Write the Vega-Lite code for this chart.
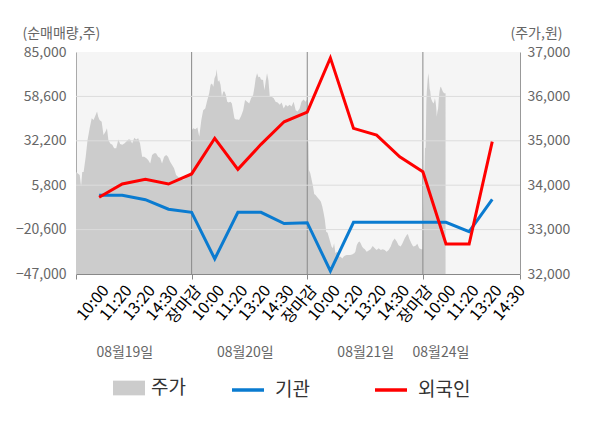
{
  "$schema": "https://vega.github.io/schema/vega-lite/v6.json",
  "width": 444,
  "height": 222,
  "autosize": "none",
  "padding": {"left": 76, "top": 52, "right": 80, "bottom": 154},
  "background": "white",
  "config": {
    "font": "Noto Sans CJK KR",
    "view": {"fill": "#f5f5f5", "stroke": null}
  },
  "datasets": {
    "price": [
      {"u":0.0,"p":34300},{"u":0.16,"p":34230},{"u":0.22,"p":33970},{"u":0.27,"p":34300},{"u":0.33,"p":34300},{"u":0.42,"p":34640},{"u":0.5,"p":35020},{"u":0.59,"p":35280},{"u":0.68,"p":35510},{"u":0.76,"p":35470},{"u":0.85,"p":35580},{"u":0.91,"p":35660},{"u":0.96,"p":35540},{"u":1.02,"p":35470},{"u":1.11,"p":35430},{"u":1.19,"p":35130},{"u":1.28,"p":35210},{"u":1.34,"p":35280},{"u":1.4,"p":35020},{"u":1.48,"p":34940},{"u":1.57,"p":34910},{"u":1.65,"p":34830},{"u":1.74,"p":34830},{"u":1.83,"p":35030},{"u":1.91,"p":34930},{"u":2.0,"p":34910},{"u":2.09,"p":34940},{"u":2.17,"p":34980},{"u":2.26,"p":35030},{"u":2.34,"p":35030},{"u":2.43,"p":34940},{"u":2.52,"p":35070},{"u":2.6,"p":35030},{"u":2.69,"p":35060},{"u":2.77,"p":34940},{"u":2.86,"p":34640},{"u":2.95,"p":34640},{"u":3.03,"p":34610},{"u":3.12,"p":34570},{"u":3.21,"p":34490},{"u":3.29,"p":34680},{"u":3.38,"p":34720},{"u":3.46,"p":34720},{"u":3.55,"p":34640},{"u":3.64,"p":34610},{"u":3.72,"p":34490},{"u":3.81,"p":34640},{"u":3.9,"p":34680},{"u":3.98,"p":34640},{"u":4.07,"p":34530},{"u":4.15,"p":34460},{"u":4.24,"p":34380},{"u":4.33,"p":34230},{"u":4.41,"p":34190},{"u":4.5,"p":34160},{"u":4.59,"p":34120},{"u":4.67,"p":34120},{"u":4.76,"p":34160},{"u":4.84,"p":34230},{"u":4.93,"p":34270},{"u":4.99,"p":34300},
      {"u":5.0,"p":35240},{"u":5.07,"p":35280},{"u":5.16,"p":35260},{"u":5.25,"p":35300},{"u":5.33,"p":35090},{"u":5.42,"p":35470},{"u":5.5,"p":35690},{"u":5.59,"p":35730},{"u":5.68,"p":35920},{"u":5.76,"p":36070},{"u":5.82,"p":36260},{"u":5.88,"p":36290},{"u":5.94,"p":36220},{"u":5.99,"p":36410},{"u":6.05,"p":36480},{"u":6.08,"p":36610},{"u":6.14,"p":36330},{"u":6.19,"p":36370},{"u":6.25,"p":36260},{"u":6.31,"p":35990},{"u":6.37,"p":36110},{"u":6.42,"p":36110},{"u":6.48,"p":36030},{"u":6.54,"p":35880},{"u":6.6,"p":35860},{"u":6.68,"p":35880},{"u":6.74,"p":35840},{"u":6.8,"p":35660},{"u":6.85,"p":35510},{"u":6.91,"p":35480},{"u":7.0,"p":35480},{"u":7.05,"p":35470},{"u":7.14,"p":35560},{"u":7.23,"p":35690},{"u":7.31,"p":35920},{"u":7.4,"p":35880},{"u":7.49,"p":35840},{"u":7.57,"p":35960},{"u":7.66,"p":36030},{"u":7.72,"p":36220},{"u":7.77,"p":36410},{"u":7.83,"p":36520},{"u":7.89,"p":36430},{"u":7.95,"p":36440},{"u":8.0,"p":36380},{"u":8.09,"p":36370},{"u":8.15,"p":36140},{"u":8.2,"p":36330},{"u":8.26,"p":36520},{"u":8.32,"p":36370},{"u":8.38,"p":35990},{"u":8.46,"p":35990},{"u":8.55,"p":35960},{"u":8.63,"p":35880},{"u":8.72,"p":35860},{"u":8.81,"p":35810},{"u":8.89,"p":35860},{"u":8.98,"p":35730},{"u":9.07,"p":35810},{"u":9.15,"p":35770},{"u":9.24,"p":35810},{"u":9.32,"p":35770},{"u":9.41,"p":35880},{"u":9.5,"p":35690},{"u":9.58,"p":35660},{"u":9.67,"p":35730},{"u":9.75,"p":35880},{"u":9.84,"p":35930},{"u":9.93,"p":35880},{"u":9.99,"p":35930},
      {"u":10.0,"p":35090},{"u":10.05,"p":34940},{"u":10.07,"p":34340},{"u":10.13,"p":34270},{"u":10.19,"p":34120},{"u":10.25,"p":33970},{"u":10.3,"p":33800},{"u":10.36,"p":33780},{"u":10.42,"p":33740},{"u":10.48,"p":33700},{"u":10.53,"p":33670},{"u":10.59,"p":33630},{"u":10.65,"p":33520},{"u":10.71,"p":33370},{"u":10.76,"p":33220},{"u":10.82,"p":32950},{"u":10.88,"p":32930},{"u":10.93,"p":32840},{"u":10.99,"p":32730},{"u":11.05,"p":32620},{"u":11.11,"p":32580},{"u":11.16,"p":32690},{"u":11.22,"p":32470},{"u":11.28,"p":32500},{"u":11.34,"p":32470},{"u":11.39,"p":32390},{"u":11.45,"p":32390},{"u":11.51,"p":32350},{"u":11.57,"p":32390},{"u":11.62,"p":32410},{"u":11.71,"p":32430},{"u":11.77,"p":32430},{"u":11.85,"p":32430},{"u":11.94,"p":32440},{"u":12.03,"p":32470},{"u":12.08,"p":32500},{"u":12.14,"p":32650},{"u":12.2,"p":32710},{"u":12.26,"p":32730},{"u":12.31,"p":32690},{"u":12.37,"p":32620},{"u":12.43,"p":32580},{"u":12.49,"p":32560},{"u":12.57,"p":32500},{"u":12.66,"p":32530},{"u":12.74,"p":32560},{"u":12.83,"p":32630},{"u":12.92,"p":32580},{"u":13.0,"p":32540},{"u":13.09,"p":32580},{"u":13.18,"p":32540},{"u":13.26,"p":32560},{"u":13.35,"p":32540},{"u":13.43,"p":32500},{"u":13.52,"p":32540},{"u":13.61,"p":32620},{"u":13.69,"p":32730},{"u":13.78,"p":32800},{"u":13.87,"p":32730},{"u":13.95,"p":32650},{"u":14.04,"p":32620},{"u":14.12,"p":32690},{"u":14.21,"p":32800},{"u":14.3,"p":32880},{"u":14.35,"p":32900},{"u":14.41,"p":32800},{"u":14.5,"p":32690},{"u":14.58,"p":32620},{"u":14.67,"p":32630},{"u":14.76,"p":32680},{"u":14.84,"p":32580},{"u":14.93,"p":32560},{"u":14.99,"p":32560},
      {"u":15.09,"p":34830},{"u":15.12,"p":34850},{"u":15.15,"p":35880},{"u":15.17,"p":36110},{"u":15.2,"p":36330},{"u":15.23,"p":36520},{"u":15.26,"p":36410},{"u":15.29,"p":36180},{"u":15.32,"p":36110},{"u":15.35,"p":35960},{"u":15.41,"p":35880},{"u":15.46,"p":35840},{"u":15.49,"p":35880},{"u":15.52,"p":35960},{"u":15.55,"p":35880},{"u":15.58,"p":35730},{"u":15.6,"p":35540},{"u":15.63,"p":35660},{"u":15.66,"p":35730},{"u":15.69,"p":35960},{"u":15.72,"p":36110},{"u":15.75,"p":36200},{"u":15.78,"p":36220},{"u":15.81,"p":36180},{"u":15.86,"p":36110},{"u":15.92,"p":36070},{"u":15.98,"p":36070}
    ],
    "flow": [
      {"u":1,"s":"기관","v":-200},{"u":2,"s":"기관","v":-200},{"u":3,"s":"기관","v":-2800},{"u":4,"s":"기관","v":-8500},{"u":5,"s":"기관","v":-10300},{"u":6,"s":"기관","v":-38000},{"u":7,"s":"기관","v":-10300},{"u":8,"s":"기관","v":-10300},{"u":9,"s":"기관","v":-17000},{"u":10,"s":"기관","v":-16500},{"u":11,"s":"기관","v":-45200},{"u":12,"s":"기관","v":-16300},{"u":13,"s":"기관","v":-16300},{"u":14,"s":"기관","v":-16300},{"u":15,"s":"기관","v":-16300},{"u":16,"s":"기관","v":-16300},{"u":17,"s":"기관","v":-21800},{"u":18,"s":"기관","v":-2600},
      {"u":1,"s":"외국인","v":-1400},{"u":2,"s":"외국인","v":6500},{"u":3,"s":"외국인","v":9300},{"u":4,"s":"외국인","v":6500},{"u":5,"s":"외국인","v":12500},{"u":6,"s":"외국인","v":33700},{"u":7,"s":"외국인","v":15200},{"u":8,"s":"외국인","v":30100},{"u":9,"s":"외국인","v":43500},{"u":10,"s":"외국인","v":49300},{"u":11,"s":"외국인","v":81500},{"u":12,"s":"외국인","v":39600},{"u":13,"s":"외국인","v":35600},{"u":14,"s":"외국인","v":22700},{"u":15,"s":"외국인","v":13800},{"u":16,"s":"외국인","v":-29200},{"u":17,"s":"외국인","v":-29200},{"u":18,"s":"외국인","v":31700}
    ],
    "bounds": [{"b":5},{"b":10},{"b":15}],
    "grid": [{"g":58600},{"g":32200},{"g":5800},{"g":-20600}]
  },
  "layer": [
    {
      "data": {"name": "price"},
      "mark": {"type": "area", "clip": true},
      "encoding": {
        "x": {"field": "u", "type": "quantitative", "scale": {"domain": [0, 19.2], "nice": false, "zero": false},
          "axis": {"orient": "bottom", "values": [0,1,2,3,4,5,6,7,8,9,10,11,12,13,14,15,16,17,18,19,19.2],
            "labelExpr": "(datum.value === 0 || datum.value > 19.1) ? '' : ['장마감','10:00','11:20','13:20','14:30'][datum.value % 5]",
            "labelAngle": -50, "labelAlign": "right", "labelBaseline": "top", "labelPadding": 3,
            "labelFontSize": 16, "labelOverlap": false, "labelFlush": false,
            "ticks": true, "tickSize": 5,
            "tickColor": {"condition": {"test": "datum.value % 5 === 0 || datum.value > 19.1", "value": "#888888"}, "value": "transparent"},
            "domain": true, "domainColor": "#888888", "grid": false, "title": null,
            "encode": {"labels": {"update": {"fill": {"signal": "datum.value % 5 === 0 ? '#ff0000' : (datum.value === 16 ? '#222222' : '#666666')"}}}}
          }
        },
        "y": {"field": "p", "type": "quantitative", "scale": {"domain": [32000, 37000], "nice": false, "zero": false},
          "axis": {"orient": "right", "values": [32000,33000,34000,35000,36000,37000], "format": ",d",
            "title": "(주가,원)", "titleAngle": 0, "titleAlign": "right", "titleBaseline": "middle", "titleX": 42, "titleY": -19,
            "titleFontSize": 14, "titleFontWeight": "normal", "titleColor": "#666666",
            "labelFontSize": 14, "labelColor": "#666666", "labelPadding": 7, "labelOverlap": false,
            "ticks": false, "grid": false, "domainColor": "#999999"}
        },
        "fill": {"datum": "주가", "type": "nominal", "scale": {"range": ["#cccccc"]},
          "legend": {"title": null, "orient": "none", "legendX": 37, "legendY": 320, "direction": "horizontal", "padding": 0,
            "symbolType": "M-1,-0.46H1V0.46H-1Z", "symbolSize": 1024, "symbolStrokeWidth": 0, "symbolOpacity": 1,
            "labelFontSize": 19, "labelColor": "#333333", "labelOffset": 6}
        }
      }
    },
    {
      "data": {"name": "bounds"},
      "mark": {"type": "rule", "color": "#888888", "strokeWidth": 1},
      "encoding": {
        "x": {"field": "b", "type": "quantitative", "scale": {"domain": [0, 19.2], "nice": false, "zero": false},
          "axis": {"orient": "bottom", "values": [2.09, 7.3, 12.51, 15.76],
            "labelExpr": "datum.value < 5 ? '08월19일' : datum.value < 10 ? '08월20일' : datum.value < 15 ? '08월21일' : '08월24일'",
            "ticks": false, "domain": false, "grid": false, "offset": 71, "labelAngle": 0, "labelAlign": "center", "labelBaseline": "top",
            "labelPadding": 0, "labelFontSize": 14, "labelColor": "#666666", "labelOverlap": false, "labelFlush": false, "title": null}
        }
      }
    },
    {
      "layer": [
        {
          "data": {"name": "grid"},
          "mark": {"type": "rule", "color": "#dcdcdc", "strokeWidth": 1},
          "encoding": {
            "y": {"field": "g", "type": "quantitative", "scale": {"domain": [-47000, 85000], "nice": false, "zero": false},
              "axis": {"orient": "left", "values": [-47000,-20600,5800,32200,58600,85000], "format": ",d",
                "title": "(순매매량,주)", "titleAngle": 0, "titleAlign": "left", "titleBaseline": "middle", "titleX": -54, "titleY": -19,
                "titleFontSize": 14, "titleFontWeight": "normal", "titleColor": "#666666",
                "labelFontSize": 14, "labelColor": "#666666", "labelPadding": 10, "labelOverlap": false,
                "ticks": false, "grid": false, "domainColor": "#aaaaaa"}
            }
          }
        },
        {
          "mark": {"type": "rule", "color": "#888888", "strokeWidth": 1},
          "encoding": {"y": {"datum": 0, "type": "quantitative"}}
        },
        {
          "data": {"name": "flow"},
          "mark": {"type": "line", "strokeWidth": 3},
          "encoding": {
            "x": {"field": "u", "type": "quantitative", "scale": {"domain": [0, 19.2], "nice": false, "zero": false}, "axis": null},
            "y": {"field": "v", "type": "quantitative"},
            "stroke": {"field": "s", "type": "nominal", "scale": {"domain": ["기관", "외국인"], "range": ["#0a7bd0", "#ff0000"]},
              "legend": {"title": null, "orient": "none", "legendX": 154, "legendY": 320, "direction": "horizontal", "padding": 0,
                "symbolType": "stroke", "symbolSize": 1024, "symbolStrokeWidth": 3.5,
                "labelFontSize": 19, "labelColor": "#333333", "labelOffset": 9, "columnPadding": 58}
            }
          }
        }
      ]
    }
  ],
  "resolve": {"scale": {"y": "independent"}, "axis": {"x": "independent", "y": "independent"}}
}
